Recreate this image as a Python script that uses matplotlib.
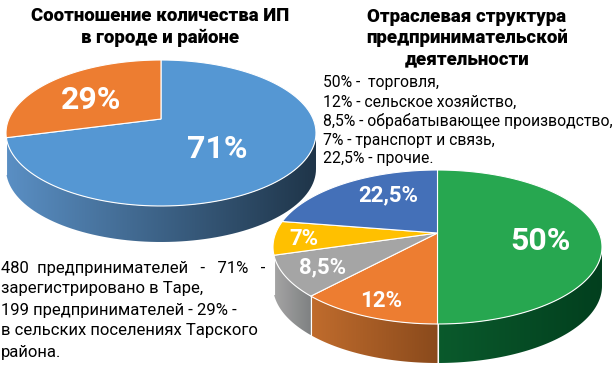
import numpy as np
import matplotlib
matplotlib.use('Agg')
import matplotlib.pyplot as plt
from matplotlib.patches import Polygon
from matplotlib.colors import to_rgb

# data
city_values = [71, 29]
city_labels = ['71%', '29%']
city_colors = ['#5597d3', '#ed7d31']

branch_values = [50, 12, 8.5, 7, 22.5]
branch_labels = ['50%', '12%', '8,5%', '7%', '22,5%']
branch_colors = ['#27a750', '#ed7d31', '#a5a5a5', '#ffc000', '#4470b8']

title_left = 'Соотношение количества ИП\nв городе и районе'
title_right = 'Отраслевая структура\nпредпринимательской\nдеятельности'
legend_lines = ['50% -  торговля,', '12% - сельское хозяйство,',
                '8,5% - обрабатывающее производство,', '7% - транспорт и связь,',
                '22,5% - прочие.']
note_lines = ['480  предпринимателей   -   71%   -', 'зарегистрировано в Таре,',
              '199 предпринимателей - 29% -', 'в сельских поселениях Тарского',
              'района.']

plt.rcParams['font.family'] = ['Roboto', 'DejaVu Sans']


def rim_angle(frac, rx, ry, apex_dy):
    # ray from the (off centre) apex, cut with the ellipse
    th = 2 * np.pi * frac
    dx, dy = np.sin(th), np.cos(th)
    off = apex_dy / ry
    b = off * dy
    s = -b + np.sqrt(b * b - off * off + 1)
    return np.arctan2(s * dx, off + s * dy) % (2 * np.pi)


def draw_pie(ax, values, colors, wall_colors, cx, cy, rx, ry, apex_dy, depth):
    fracs = np.cumsum([0] + list(values)) / sum(values)
    angles = [rim_angle(f, rx, ry, apex_dy) for f in fracs[:-1]] + [2 * np.pi]

    # side wall first, gradient clipped to the wall outline
    for i, pair in enumerate(wall_colors):
        if pair is None:
            continue
        a0 = max(angles[i], np.pi / 2)
        a1 = min(angles[i + 1], 3 * np.pi / 2)
        ts = np.linspace(a0, a1, 80)
        xs = cx + rx * np.sin(ts)
        ys = cy - ry * np.cos(ts)
        outline = list(zip(xs, ys)) + list(zip(xs[::-1], ys[::-1] + depth))
        left, right = np.array(to_rgb(pair[0])), np.array(to_rgb(pair[1]))
        m = np.linspace(0, 1, 200)[:, None]
        grad = (left + (right - left) * m)[None, :, :]
        im = ax.imshow(grad, extent=[xs.min(), xs.max(), ys.max() + depth, ys.min()],
                       aspect='auto', zorder=1)
        clip = Polygon(outline, closed=True, transform=ax.transData)
        im.set_clip_path(clip)
        if a1 < 3 * np.pi / 2 - 1e-6:
            ax.plot([xs[-1], xs[-1]], [ys[-1], ys[-1] + depth], color='white', lw=0.8, zorder=1)

    # top face
    for i, col in enumerate(colors):
        ts = np.linspace(angles[i], angles[i + 1], 120)
        pts = [(cx, cy - apex_dy)] + list(zip(cx + rx * np.sin(ts), cy - ry * np.cos(ts)))
        ax.add_patch(Polygon(pts, closed=True, facecolor=col, edgecolor='white',
                             linewidth=0.8, zorder=1))


fig = plt.figure(figsize=(6.13, 3.84), dpi=100)
ax = fig.add_axes([0, 0, 1, 1])

draw_pie(ax, city_values, city_colors,
         [('#5a8fc4', '#1f3549'), None],
         161, 133, 155, 73, 14, 36)
draw_pie(ax, branch_values, branch_colors,
         [('#0a5a2c', '#023f1e'), ('#c06c2d', '#8a4a1c'), ('#a5a5a5', '#7f8182'), None, None],
         437.5, 247, 164.5, 77, 14, 39)

ax.set_xlim(0, 613)
ax.set_ylim(384, 0)
ax.set_aspect('auto')
ax.axis('off')

# values on the slices
for txt, (x, y), fs in zip(city_labels, [(217, 149), (91, 100)], [23, 23]):
    ax.text(x, y, txt, color='white', fontsize=fs, fontweight='bold', ha='center', va='center')
branch_pos = [(540, 241.5), (381, 301), (323, 267), (304, 239), (388, 195)]
branch_fs = [23, 16, 16, 16, 16]
for txt, (x, y), fs in zip(branch_labels, branch_pos, branch_fs):
    ax.text(x, y, txt, color='white', fontsize=fs, fontweight='bold', ha='center', va='center')

ax.text(160, 27, title_left, fontsize=13.4, fontweight='black', ha='center', va='center',
        linespacing=1.25, color='black')
ax.text(467, 38, title_right, fontsize=13.4, fontweight='black', ha='center', va='center',
        linespacing=1.2, color='black')

for i, line in enumerate(legend_lines):
    ax.text(323, 83 + 19 * i, line, fontsize=11.3, ha='left', va='center', color='black')
for i, line in enumerate(note_lines):
    ax.text(1, 268 + 21 * i, line, fontsize=12, ha='left', va='center', color='black')

fig.savefig('out.png', dpi=100)
plt.close(fig)
